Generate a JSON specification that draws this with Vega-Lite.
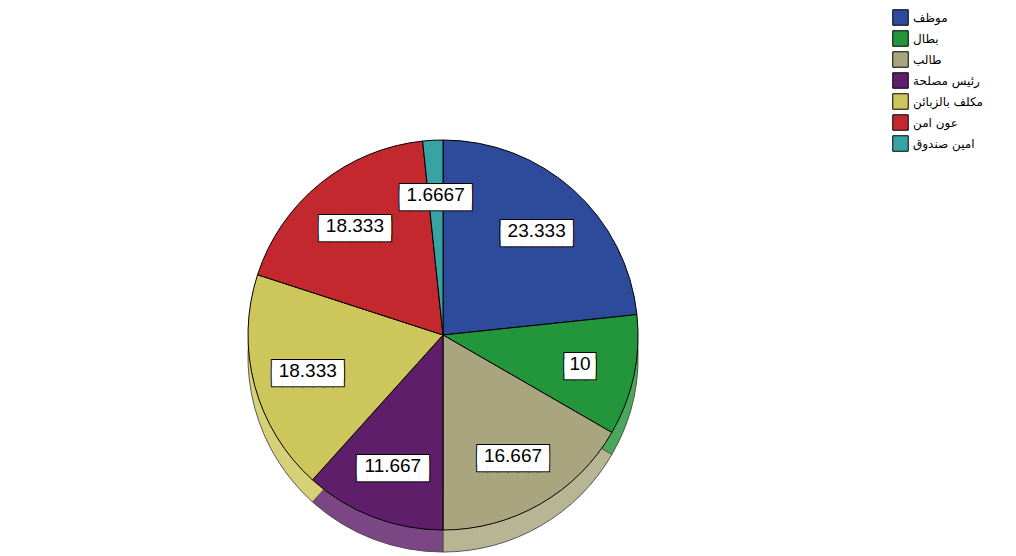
{
  "$schema": "https://vega.github.io/schema/vega-lite/v6.json",
  "width": 886,
  "height": 442,
  "padding": {"left": 0, "top": 114, "right": 130, "bottom": 0},
  "autosize": {"type": "none"},
  "background": "white",
  "data": {
    "values": [
      {"job": "موظف", "value": 23.333},
      {"job": "بطال", "value": 10},
      {"job": "طالب", "value": 16.667},
      {"job": "رئيس مصلحة", "value": 11.667},
      {"job": "مكلف بالزبائن", "value": 18.333},
      {"job": "عون امن", "value": 18.333},
      {"job": "امين صندوق", "value": 1.6667}
    ]
  },
  "transform": [
    {"window": [{"op": "row_number", "as": "i"}]},
    {"calculate": "pad('', length('' + datum.value) + 1, '█')", "as": "bar"},
    {"calculate": "datum.bar + '\\n' + datum.bar", "as": "box"}
  ],
  "encoding": {
    "theta": {"field": "value", "type": "quantitative", "stack": true},
    "order": {"field": "i", "type": "quantitative"}
  },
  "layer": [
    {
      "mark": {"type": "arc", "radius": 195, "yOffset": 22, "stroke": "#222", "strokeWidth": 0.8},
      "encoding": {
        "color": {
          "field": "job",
          "type": "nominal",
          "scale": {
            "domain": ["موظف", "بطال", "طالب", "رئيس مصلحة", "مكلف بالزبائن", "عون امن", "امين صندوق"],
            "range": ["#2E4A9A", "#23953A", "#A9A57E", "#5E1E6A", "#CDC65A", "#C4282F", "#38A3A3"]
          },
          "legend": {
            "title": null,
            "orient": "none",
            "legendX": 892,
            "legendY": -105,
            "symbolType": "square",
            "symbolSize": 240,
            "symbolStrokeColor": "black",
            "symbolStrokeWidth": 1,
            "symbolOpacity": 1,
            "labelFont": "DejaVu Sans",
            "labelFontSize": 12,
            "labelColor": "black",
            "rowPadding": 0,
            "labelOffset": 4
          }
        }
      }
    },
    {
      "mark": {"type": "arc", "radius": 195, "yOffset": 22, "fill": "white", "fillOpacity": 0.18, "stroke": null},
      "encoding": {"detail": {"field": "job"}}
    },
    {
      "mark": {"type": "arc", "radius": 195, "stroke": "black", "strokeWidth": 1},
      "encoding": {"color": {"field": "job", "type": "nominal"}}
    },
    {
      "mark": {"type": "text", "radius": 140, "font": "DejaVu Sans Mono", "fontSize": 17, "lineBreak": "\n", "lineHeight": 6, "color": "black", "stroke": "black", "strokeWidth": 2, "align": "center", "baseline": "middle"},
      "encoding": {"text": {"field": "box"}, "detail": {"field": "job"}}
    },
    {
      "mark": {"type": "text", "radius": 140, "font": "DejaVu Sans Mono", "fontSize": 17, "lineBreak": "\n", "lineHeight": 6, "color": "white", "align": "center", "baseline": "middle"},
      "encoding": {"text": {"field": "box"}, "detail": {"field": "job"}}
    },
    {
      "mark": {"type": "text", "radius": 140, "font": "Liberation Sans", "fontSize": 19, "color": "black", "align": "center", "baseline": "middle"},
      "encoding": {"text": {"field": "value", "type": "nominal"}, "detail": {"field": "job"}}
    }
  ],
  "config": {"view": {"stroke": null}}
}
